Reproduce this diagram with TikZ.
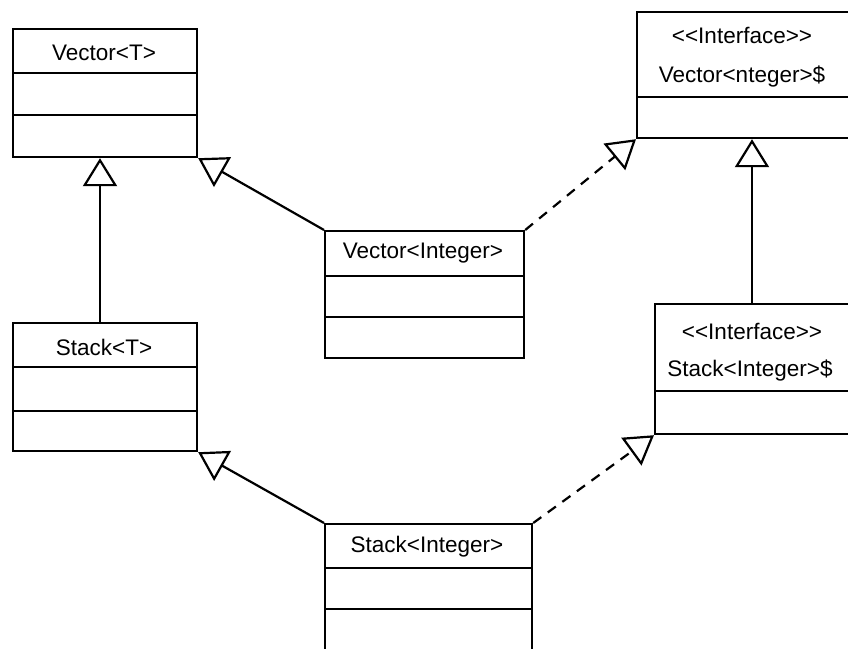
\documentclass[tikz,border=0pt]{standalone}
\usepackage{fontspec}
\setmainfont{Liberation Sans}
\usetikzlibrary{arrows.meta}
\begin{document}
\begin{tikzpicture}[x=1pt,y=-1pt,
  lw/.style={line width=2.2pt},
  cls/.style={draw,lw,rectangle,inner sep=0pt,anchor=north west},
  lbl/.style={font=\fontsize{22.5}{26}\selectfont,inner sep=0pt},
  gen/.style={lw,-{Triangle[open,length=28pt,width=34pt,line width=2.2pt]}},
  real/.style={gen,dash pattern=on 10pt off 8pt}]
\clip (0,0) rectangle (848,648);
\fill[white] (0,0) rectangle (848,648);
% Vector<T>
\node[cls,minimum width=184pt,minimum height=128pt] (vt) at (12,28) {};
\draw[lw] (12,73) -- (196,73) (12,115) -- (196,115);
\node[lbl] (vtt) at (104,53) {Vector<T>};
% Stack<T>
\node[cls,minimum width=184pt,minimum height=128pt] (st) at (12,322) {};
\draw[lw] (12,367) -- (196,367) (12,411) -- (196,411);
\node[lbl] (stt) at (104,347) {Stack<T>};
% Vector<Integer>
\node[cls,minimum width=199pt,minimum height=127pt] (vi) at (324,230) {};
\draw[lw] (324,276) -- (523,276) (324,317) -- (523,317);
\node[lbl] (vit) at (423,253) {Vector<Integer>};
% Stack<Integer>
\node[cls,minimum width=207pt,minimum height=140pt] (si) at (324,523) {};
\draw[lw] (324,568) -- (531,568) (324,609) -- (531,609);
\node[lbl] (sit) at (427,547) {Stack<Integer>};
% Interface Vector
\node[cls,minimum width=240pt,minimum height=126pt] (iv) at (636,11) {};
\draw[lw] (636,97) -- (876,97);
\node[lbl] (ivs) at (742,35) {<{}<Interface>{}>};
\node[lbl] (ivt) at (742,77) {Vector<nteger>\$};
% Interface Stack
\node[cls,minimum width=222pt,minimum height=130pt] (is) at (654,303) {};
\draw[lw] (654,391) -- (876,391);
\node[lbl] (iss) at (752,331) {<{}<Interface>{}>};
\node[lbl] (ist) at (750,371) {Stack<Integer>\$};
% connectors
\coordinate (ax) at (752,0);
\coordinate (bx) at (100,0);
\draw[gen] (st.north -| bx) -- (vt.south -| bx);
\draw[gen] (vi.north west) -- (vt.south east);
\draw[gen] (si.north west) -- (st.south east);
\draw[gen] (is.north -| ax) -- (iv.south -| ax);
\draw[real] (vi.north east) -- (iv.south west);
\draw[real] (si.north east) -- (is.south west);
\end{tikzpicture}
\end{document}
